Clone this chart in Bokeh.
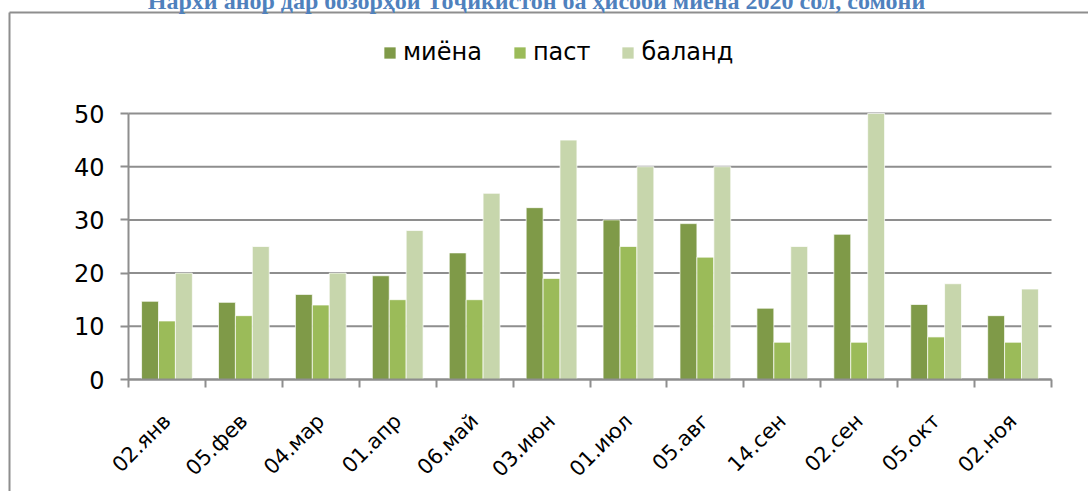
import numpy as np
from bokeh.plotting import figure
from bokeh.models import (Range1d, FixedTicker, Legend, LegendItem, Label,
                          ColumnDataSource)
from bokeh.transform import dodge
from bokeh.embed import file_html
from bokeh.resources import INLINE

# ---- data ----
categories = ["02.янв", "05.фев", "04.мар", "01.апр", "06.май", "03.июн",
              "01.июл", "05.авг", "14.сен", "02.сен", "05.окт", "02.ноя"]
miyona = [14.7, 14.5, 16.0, 19.5, 23.8, 32.3, 30.0, 29.3, 13.4, 27.3, 14.1, 12.0]
past = [11, 12, 14, 15, 15, 19, 25, 23, 7, 7, 8, 7]
baland = [20, 25, 20, 28, 35, 45, 40, 40, 25, 50, 18, 17]
series_names = ["миёна", "паст", "баланд"]
y_ticks = [0, 10, 20, 30, 40, 50]
title_text = "Нархи анор дар бозорҳои Тоҷикистон ба ҳисоби миёна 2020 сол, сомонӣ"

FONT = "DejaVu Sans"
GRID = "#8E8E8E"
colors = ["#7F9A48", "#9BBB59", "#C7D6AC"]

n = len(categories)
ymax = y_ticks[-1]
centers = [i + 0.5 for i in range(n)]
src = ColumnDataSource(dict(x=centers, m=miyona, p=past, b=baland))

# canvas geometry (canvas is shifted by -8px through a negative margin)
W, H = 1096, 499
PL, PR, PT, PB = 136, 1059, 121, 387          # plot area in canvas pixels
xs = (PR - PL) / n
ys = (PB - PT) / ymax
x_range = Range1d(-PL / xs, n + (W - PR) / xs)
y_range = Range1d(-(H - PB) / ys, PB / ys)


def dx(px):
    return (px - PL) / xs


def dy(py):
    return (PB - py) / ys


p = figure(width=W, height=H, output_backend="svg", toolbar_location=None,
           x_range=x_range, y_range=y_range, min_border=0,
           margin=(-8, -8, -8, -8))
p.outline_line_color = None
p.background_fill_color = "white"
p.border_fill_color = "white"

# outer chart frame (runs off the page right and bottom)
FX, FY = 17, 20
p.segment(x0=[dx(FX), dx(FX)], y0=[dy(FY), dy(FY)], x1=[dx(W + 20), dx(FX)],
          y1=[dy(FY), dy(H + 20)], line_color=GRID, line_width=2)

# gridlines across the plot area only
p.xgrid.visible = False
p.ygrid.visible = False
p.segment(x0=[0] * len(y_ticks), x1=[n] * len(y_ticks), y0=y_ticks, y1=y_ticks,
          line_color=GRID, line_width=2)

bw = 0.22
renderers = []
for col, off, c in zip(["m", "p", "b"], [-bw, 0, bw], colors):
    r = p.vbar(x=dodge("x", off), top=col, width=bw, source=src,
               fill_color=c, line_color="white", line_alpha=0.7, line_width=1)
    renderers.append(r)

# axes, fixed inside the frame
yax = p.yaxis[0]
yax.fixed_location = 0
yax.bounds = (0, ymax)
yax.ticker = FixedTicker(ticks=y_ticks)
yax.axis_line_color = GRID
yax.axis_line_width = 2
yax.major_tick_line_color = GRID
yax.major_tick_line_width = 2
yax.major_tick_out = 8
yax.major_tick_in = 0
yax.minor_tick_line_color = None
yax.major_label_text_font = FONT
yax.major_label_text_font_size = "24px"
yax.major_label_text_color = "black"
yax.major_label_standoff = 16

xax = p.xaxis[0]
xax.fixed_location = 0
xax.bounds = (0, n)
xax.ticker = FixedTicker(ticks=centers, minor_ticks=list(range(n + 1)))
xax.major_label_overrides = {c: lab for c, lab in zip(centers, categories)}
xax.axis_line_color = GRID
xax.axis_line_width = 2
xax.major_tick_line_color = None
xax.minor_tick_line_color = GRID
xax.minor_tick_line_width = 2
xax.minor_tick_out = 8
xax.minor_tick_in = 0
xax.major_label_orientation = np.pi / 4
xax.major_label_text_font = FONT
xax.major_label_text_font_size = "21px"
xax.major_label_text_color = "black"
xax.major_label_standoff = 30

# legend
legend = Legend(items=[LegendItem(label=nm, renderers=[r]) for nm, r in zip(series_names, renderers)],
                orientation="horizontal", location=(390, 425), padding=0, margin=0,
                spacing=30, glyph_width=15, glyph_height=15, label_standoff=6,
                border_line_color=None, background_fill_alpha=0,
                label_text_font=FONT, label_text_font_size="24px", label_text_color="black")
p.add_layout(legend, "center")

# title (cut off at the top as in the reference)
p.add_layout(Label(x=544, y=8, x_units="canvas", y_units="canvas", text=title_text,
                   text_align="center", text_baseline="alphabetic",
                   text_font="Liberation Serif", text_font_style="bold",
                   text_font_size="24px", text_color="#4F81BD"))

open("out.html", "w").write(file_html(p, INLINE))
